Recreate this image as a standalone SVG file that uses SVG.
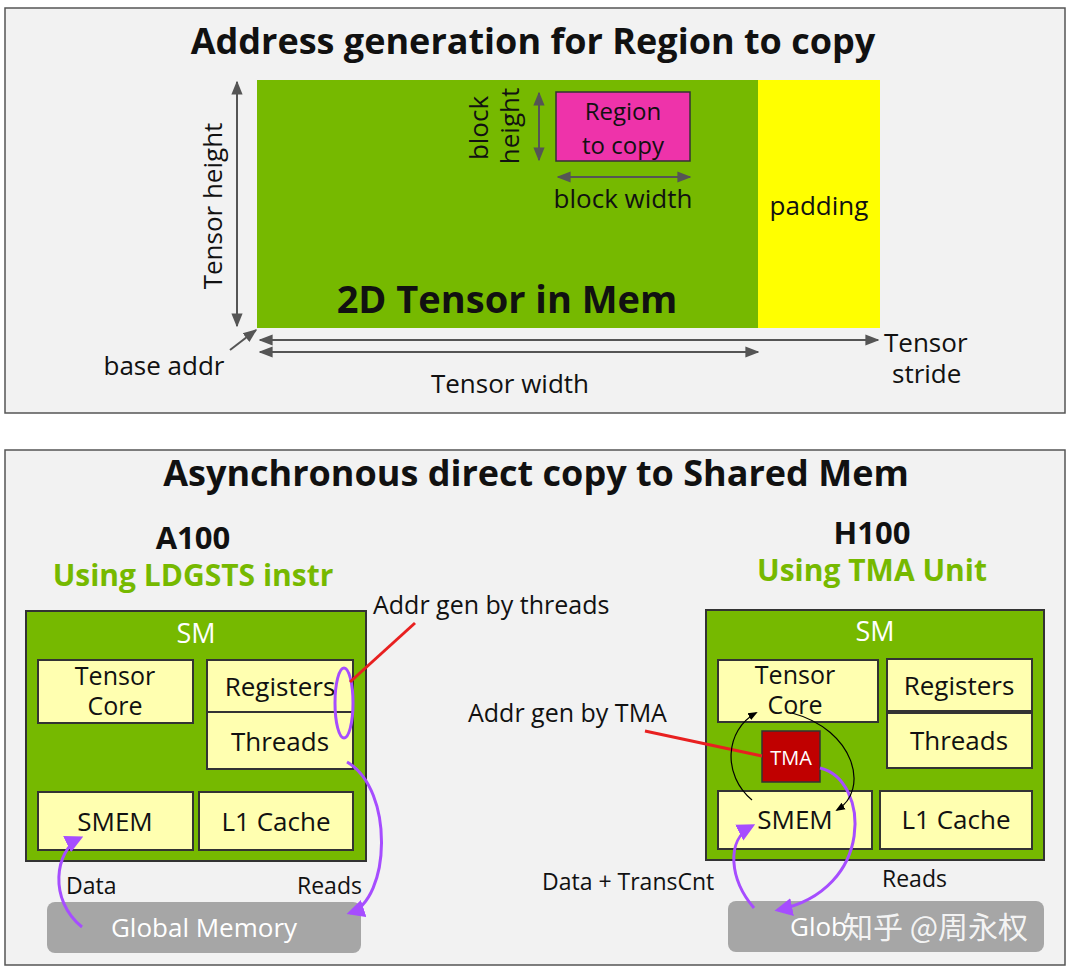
<svg xmlns="http://www.w3.org/2000/svg" width="1072" height="972" viewBox="0 0 1072 972">
<defs>
<style>
text{font-family:"Open Sans","Liberation Sans",sans-serif;fill:#111}
.t{font-weight:bold;font-size:36px}
.l{font-size:25px}
.n{font-size:26px;text-anchor:middle}
.sm{fill:#76b900;stroke:#333;stroke-width:2}
.bx{fill:#ffffb0;stroke:#333;stroke-width:2}
.g{font-size:30px;fill:#76b900;font-weight:bold;text-anchor:middle}
.gm{fill:#a6a6a6}
.ar{stroke:#555;stroke-width:2;fill:none}
.pu{stroke:#a64dff;stroke-width:3;fill:none}
</style>
<marker id="ga" viewBox="0 0 10 10" refX="9" refY="5" markerWidth="7" markerHeight="7" orient="auto-start-reverse"><path d="M0,1 L10,5 L0,9 z" fill="#555"/></marker>
<marker id="pa" viewBox="0 0 10 10" refX="8" refY="5" markerWidth="6" markerHeight="6" orient="auto"><path d="M0,0 L10,5 L0,10 z" fill="#a64dff"/></marker>
<marker id="ka" viewBox="0 0 10 10" refX="8" refY="5" markerWidth="8" markerHeight="8" orient="auto"><path d="M0,1 L10,5 L0,9 z" fill="#000"/></marker>
</defs>
<rect width="1072" height="972" fill="#fff"/>
<g id="panel-top">
<rect x="5" y="8" width="1060" height="405" fill="#f2f2f2" stroke="#555" stroke-width="1.5"/>
<text class="t" x="533" y="54" text-anchor="middle">Address generation for Region to copy</text>
</g>
<g id="tensor"><rect x="257" y="80" width="501" height="248" fill="#76b900"/><text x="507" y="313" text-anchor="middle" style="font-size:38px;font-weight:bold">2D Tensor in Mem</text></g>
<g id="padding"><rect x="758" y="80" width="122" height="248" fill="#ffff00"/><text x="819" y="215" text-anchor="middle" style="font-size:26px">padding</text></g>
<g id="region"><rect x="556" y="92" width="134" height="69" fill="#ee33aa" stroke="#333" stroke-width="1.5"/><text class="n" x="623" y="120" style="font-size:24px">Region</text><text class="n" x="623" y="154" style="font-size:24px">to copy</text></g>
<g id="labels-top">
<text class="n" transform="translate(222,206) rotate(-90)">Tensor height</text>
<text class="n" transform="translate(488,128) rotate(-90)">block</text>
<text class="n" transform="translate(519,126) rotate(-90)">height</text>
<text class="n" x="623" y="208">block width</text>
<text class="n" x="164" y="375">base addr</text>
<text class="n" x="510" y="393">Tensor width</text>
<text x="884" y="352" style="font-size:26px">Tensor</text>
<text x="892" y="383" style="font-size:26px">stride</text>
</g>
<g id="panel-bottom">
<rect x="5" y="450" width="1060" height="515" fill="#f2f2f2" stroke="#555" stroke-width="1.5"/>
<text class="t" x="536" y="486" text-anchor="middle">Asynchronous direct copy to Shared Mem</text>
<text x="193" y="549" text-anchor="middle" style="font-size:31px;font-weight:bold">A100</text>
<text class="g" x="193" y="586">Using LDGSTS instr</text>
<text x="872" y="544" text-anchor="middle" style="font-size:31px;font-weight:bold">H100</text>
<text class="g" x="872" y="581">Using TMA Unit</text>
<text class="l" x="373" y="614">Addr gen by threads</text>
<text class="l" x="468" y="722">Addr gen by TMA</text>
<text class="l" x="66" y="894" style="font-size:23px">Data</text>
<text class="l" x="297" y="894" style="font-size:23px">Reads</text>
<text class="l" x="542" y="890" style="font-size:23px">Data + TransCnt</text>
<text class="l" x="882" y="887" style="font-size:23px">Reads</text>
</g>
<g id="sm-a100">
<rect class="sm" x="26" y="611" width="340" height="250"/>
<text class="n" x="196" y="643" style="fill:#fff;font-size:27px">SM</text>
</g>
<g id="a-tc"><rect class="bx" x="38" y="660" width="155" height="63"/><text class="n" x="115" y="685" style="font-size:25px">Tensor</text><text class="n" x="115" y="715" style="font-size:25px">Core</text></g>
<g id="a-reg"><rect class="bx" x="207" y="660" width="146" height="52"/><text class="n" x="280" y="696">Registers</text></g>
<g id="a-thr"><rect class="bx" x="207" y="712" width="146" height="57"/><text class="n" x="280" y="751">Threads</text></g>
<g id="a-smem"><rect class="bx" x="38" y="792" width="155" height="58"/><text class="n" x="115" y="831">SMEM</text></g>
<g id="a-l1"><rect class="bx" x="199" y="792" width="154" height="58"/><text class="n" x="276" y="831">L1 Cache</text></g>
<g id="a-gm"><rect class="gm" x="47" y="902" width="314" height="51" rx="8"/><text class="n" x="204" y="937" style="fill:#fff">Global Memory</text></g>
<ellipse cx="344" cy="703" rx="9" ry="35" fill="none" stroke="#a64dff" stroke-width="3"/>
<g id="sm-h100">
<rect class="sm" x="706" y="610" width="338" height="250"/>
<text class="n" x="875" y="641" style="fill:#fff;font-size:27px">SM</text>
</g>
<g id="h-tc"><rect class="bx" x="718" y="660" width="160" height="62"/><text class="n" x="795" y="684" style="font-size:25px">Tensor</text><text class="n" x="795" y="714" style="font-size:25px">Core</text></g>
<g id="h-reg"><rect class="bx" x="887" y="659" width="145" height="52"/><text class="n" x="959" y="695">Registers</text></g>
<g id="h-thr"><rect class="bx" x="887" y="713" width="145" height="55"/><text class="n" x="959" y="750">Threads</text></g>
<g id="h-tma"><rect x="762" y="731" width="58" height="51" fill="#c00000" stroke="#333" stroke-width="1.5"/><text class="n" x="791" y="765" style="fill:#fff;font-size:20px">TMA</text></g>
<g id="h-smem"><rect class="bx" x="718" y="791" width="154" height="58"/><text class="n" x="795" y="829">SMEM</text></g>
<g id="h-l1"><rect class="bx" x="880" y="791" width="152" height="58"/><text class="n" x="956" y="829">L1 Cache</text></g>
<g id="h-gm"><rect class="gm" x="728" y="901" width="316" height="51" rx="8"/><text x="790" y="936" style="fill:#fff;font-size:26px">Glob</text>
<text x="843" y="938" style="font-family:'Noto Sans CJK SC',sans-serif;font-size:30px;fill:#fff;fill-opacity:0.9">知乎 @周永权</text></g>
<g id="connectors">
<line class="ar" x1="237" y1="82" x2="237" y2="326" marker-start="url(#ga)" marker-end="url(#ga)"/>
<line class="ar" x1="539" y1="93" x2="539" y2="160" marker-start="url(#ga)" marker-end="url(#ga)"/>
<line class="ar" x1="558" y1="177" x2="690" y2="177" marker-start="url(#ga)" marker-end="url(#ga)"/>
<line class="ar" x1="260" y1="340" x2="878" y2="340" marker-start="url(#ga)" marker-end="url(#ga)"/>
<line class="ar" x1="260" y1="352" x2="758" y2="352" marker-start="url(#ga)" marker-end="url(#ga)"/>
<line class="ar" x1="230" y1="350" x2="256" y2="330" marker-end="url(#ga)"/>
<line x1="350" y1="682" x2="415" y2="623" stroke="#e82020" stroke-width="3"/>
<line x1="645" y1="731" x2="762" y2="756" stroke="#e82020" stroke-width="3"/>
<path class="pu" d="M82,927 C48,900 55,850 80,838" marker-end="url(#pa)"/>
<path class="pu" d="M347,762 C395,790 390,900 350,913" marker-end="url(#pa)"/>
<path class="pu" d="M754,908 C730,880 725,840 752,826" marker-end="url(#pa)"/>
<path class="pu" d="M820,768 C870,780 875,890 778,910" marker-end="url(#pa)"/>
<path d="M752,800 C722,775 725,730 756,713" stroke="#000" stroke-width="1.2" fill="none" marker-end="url(#ka)"/>
<path d="M792,713 C855,730 870,790 837,810" stroke="#000" stroke-width="1.2" fill="none" marker-end="url(#ka)"/>
</g>
</svg>
